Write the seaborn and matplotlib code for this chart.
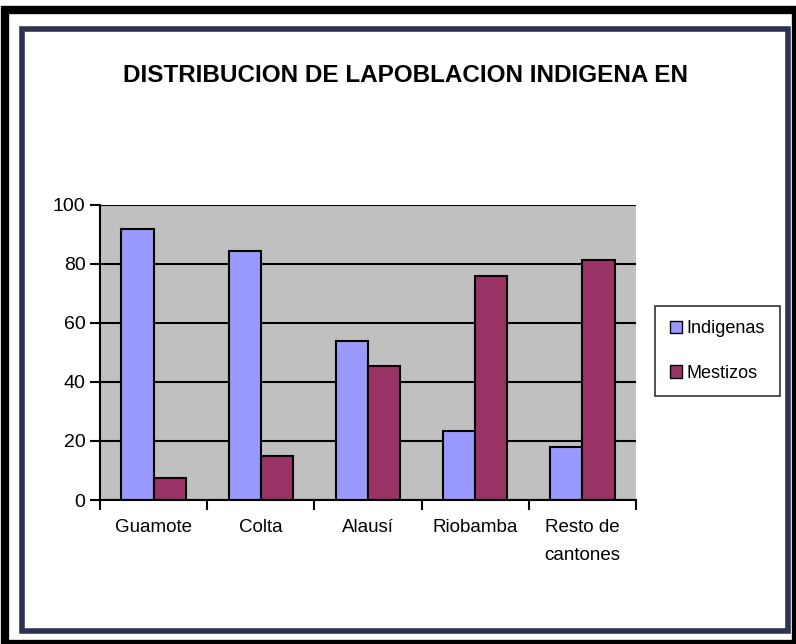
import pandas as pd
import matplotlib.pyplot as plt
import seaborn as sns
from matplotlib.patches import Rectangle, Patch

# datos
cantones = ['Guamote', 'Colta', 'Alausí', 'Riobamba', 'Resto de\ncantones']
indigenas = [92, 84.5, 54, 23.5, 18]
mestizos = [7.5, 15, 45.5, 76, 81.5]
series = ['Indigenas', 'Mestizos']
colores = ['#9999FF', '#993366']
yticks = [0, 20, 40, 60, 80, 100]

df = pd.DataFrame({
    'canton': cantones * 2,
    'valor': indigenas + mestizos,
    'serie': [series[0]] * len(cantones) + [series[1]] * len(cantones),
})

sns.set_style('white')
plt.rcParams['font.family'] = ['Liberation Sans Narrow', 'Liberation Sans', 'DejaVu Sans']
plt.rcParams['text.color'] = 'black'
plt.rcParams['xtick.color'] = 'black'
plt.rcParams['ytick.color'] = 'black'

fig = plt.figure(figsize=(7.96, 6.44), dpi=100)

# marcos
fig.patches.append(Rectangle((0.006, 0.0), 0.994, 0.985, transform=fig.transFigure,
                             facecolor='none', edgecolor='black', linewidth=6, zorder=-2))
fig.patches.append(Rectangle((0.028, 0.02), 0.962, 0.935, transform=fig.transFigure,
                             facecolor='white', edgecolor='#2e3152', linewidth=4, zorder=-1))

ax = fig.add_axes([0.1256, 0.2236, 0.6734, 0.4581])
sns.barplot(data=df, x='canton', y='valor', hue='serie', palette=colores, saturation=1,
            width=0.6, edgecolor='black', linewidth=1.5, ax=ax, legend=False)

ax.set_facecolor('#C0C0C0')
ax.set_ylim(0, 100)
ax.set_xlim(-0.5, len(cantones) - 0.5)
ax.set_yticks(yticks)
ax.yaxis.grid(True, color='black', linewidth=1.5)
ax.set_axisbelow(True)
ax.set_xlabel('')
ax.set_ylabel('')
for s in ['top', 'right']:
    ax.spines[s].set_visible(False)
for s in ['left', 'bottom']:
    ax.spines[s].set_color('black')
    ax.spines[s].set_linewidth(1.5)

ax.tick_params(axis='y', length=7, width=1.5, color='black', labelsize=14, direction='out', left=True)
ax.tick_params(axis='x', which='major', length=0, labelsize=13.5, pad=14)
ax.set_xticks([i - 0.5 for i in range(len(cantones) + 1)], minor=True)
ax.tick_params(axis='x', which='minor', length=7, width=1.5, color='black', direction='out', bottom=True)
plt.setp(ax.get_xticklabels(), linespacing=1.8)

fig.text(0.51, 0.883, 'DISTRIBUCION DE LAPOBLACION INDIGENA EN', ha='center', va='center',
         fontsize=17.5, fontweight='bold')

handles = [Patch(facecolor=c, edgecolor='black', label=s) for c, s in zip(colores, series)]
leg = fig.legend(handles=handles, loc='center left', bbox_to_anchor=(0.823, 0.455),
                 fontsize=13, frameon=True, fancybox=False, edgecolor='black',
                 handlelength=0.7, handleheight=0.7, handletextpad=0.25, borderpad=0.8,
                 borderaxespad=0, labelspacing=1.5)
leg.get_frame().set_linewidth(1.2)

fig.savefig('out.png', dpi=100)
